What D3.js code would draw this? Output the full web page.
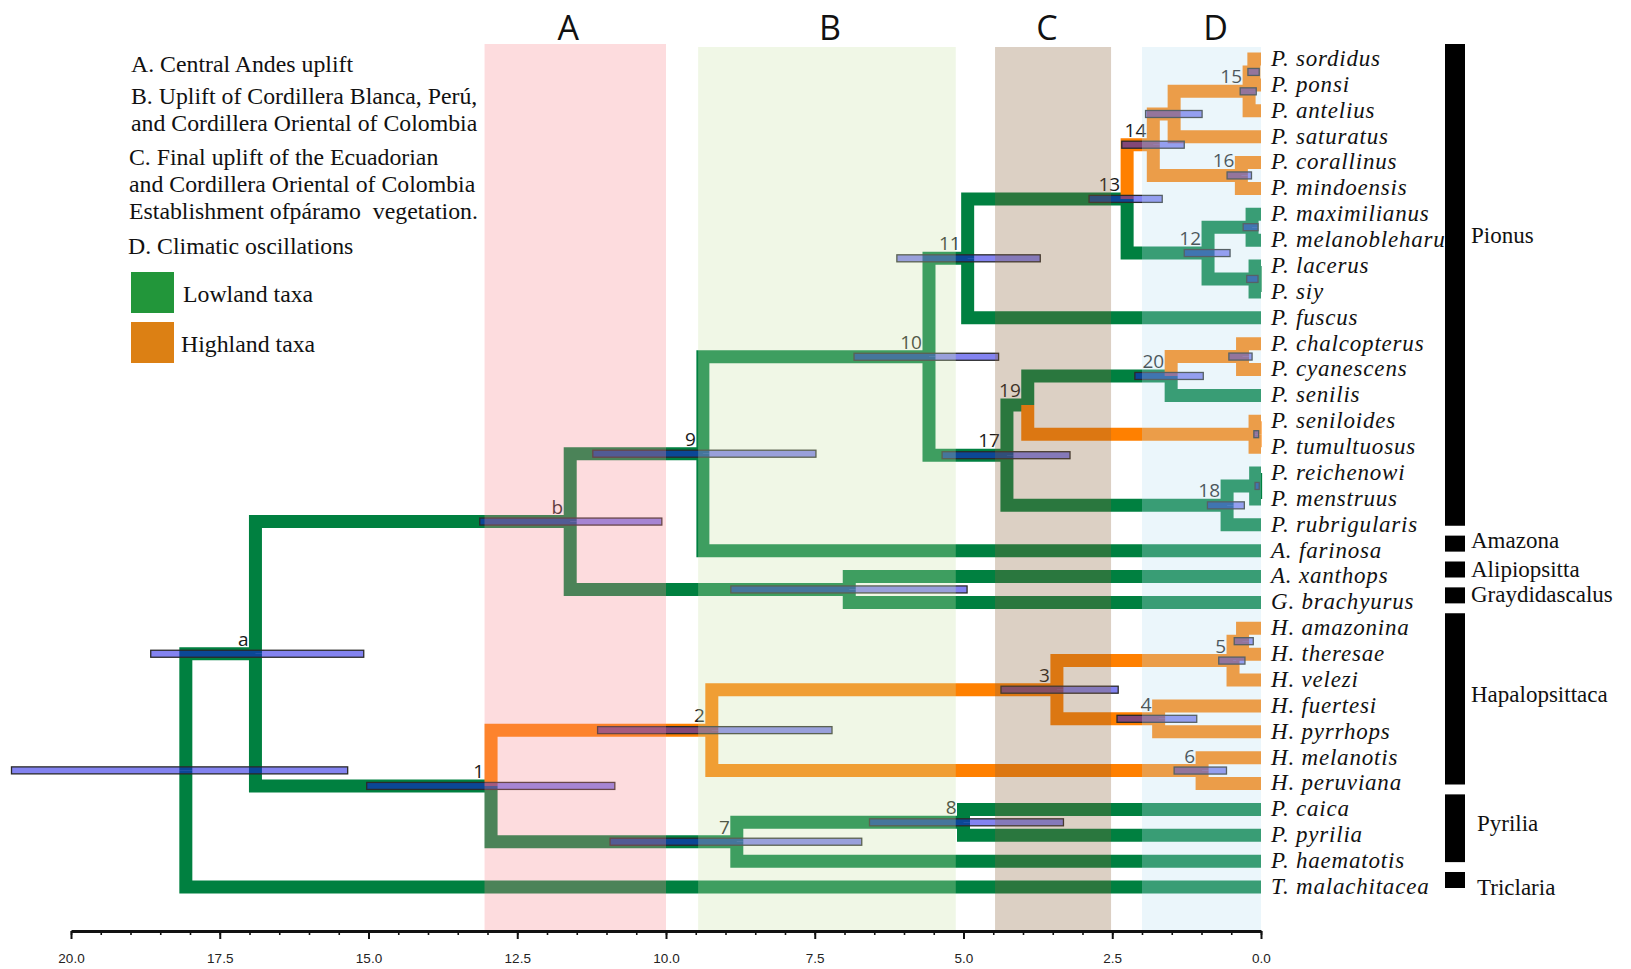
<!DOCTYPE html>
<html>
<head>
<meta charset="utf-8">
<script src="https://cdn.jsdelivr.net/npm/d3@7"></script>
<style>
  body { margin: 0; background: #fff; }
  text { font-family: "Liberation Serif", "Times New Roman", serif; }
</style>
</head>
<body>
<svg id="tree"></svg>
<script>
let outerWidth = 1631
let outerHeight = 969

// ---- data ----
let tipNames = ['P. sordidus', 'P. ponsi', 'P. antelius', 'P. saturatus', 'P. corallinus', 'P. mindoensis',
  'P. maximilianus', 'P. melanobleharus', 'P. lacerus', 'P. siy', 'P. fuscus', 'P. chalcopterus',
  'P. cyanescens', 'P. senilis', 'P. seniloides', 'P. tumultuosus', 'P. reichenowi', 'P. menstruus',
  'P. rubrigularis', 'A. farinosa', 'A. xanthops', 'G. brachyurus', 'H. amazonina', 'H. theresae',
  'H. velezi', 'H. fuertesi', 'H. pyrrhops', 'H. melanotis', 'H. peruviana', 'P. caica', 'P. pyrilia',
  'P. haematotis', 'T. malachitacea']
let tipParents = ['15a', '15a', '15', '14a', '16', '16', '12a', '12a', '12b', '12b', '11', '20a', '20a', '20',
  '19a', '19a', '18a', '18a', '18', '9', 'xb', 'xb', 'amth', 'amth', '5', '4', '4', '6', '6', '8', '8', '7', 'root']

// id, parent, age (Ma), 95% HPD old, 95% HPD young, label
let nodes = [
  ['root', null, 18.07, 21.0, 15.35, ''],
  ['a', 'root', 16.9, 18.66, 15.08, 'a'],
  ['1', 'a', 12.94, 15.03, 10.86, '1'],
  ['2', '1', 9.23, 11.15, 7.21, '2'],
  ['3', '2', 3.43, 4.37, 2.4, '3'],
  ['5', '3', 0.47, 0.71, 0.27, '5'],
  ['amth', '5', 0.31, 0.45, 0.13, ''],
  ['4', '3', 1.72, 2.42, 1.08, '4'],
  ['6', '2', 0.99, 1.46, 0.58, '6'],
  ['7', '1', 8.81, 10.94, 6.71, '7'],
  ['8', '7', 5.0, 6.58, 3.32, '8'],
  ['b', 'a', 11.61, 13.13, 10.07, 'b'],
  ['9', 'b', 9.38, 11.23, 7.48, '9'],
  ['xb', 'b', 6.92, 8.91, 4.94, ''],
  ['10', '9', 5.58, 6.84, 4.41, '10'],
  ['11', '10', 4.93, 6.12, 3.71, '11'],
  ['13', '11', 2.25, 2.89, 1.66, '13'],
  ['14', '13', 1.81, 2.34, 1.29, '14'],
  ['14a', '14', 1.46, 1.94, 0.99, ''],
  ['15', '14a', 0.2, 0.35, 0.08, '15'],
  ['15a', '15', 0.12, 0.22, 0.03, ''],
  ['16', '14', 0.33, 0.57, 0.16, '16'],
  ['12', '13', 0.89, 1.29, 0.52, '12'],
  ['12a', '12', 0.15, 0.3, 0.05, ''],
  ['12b', '12', 0.1, 0.24, 0.05, ''],
  ['17', '10', 4.27, 5.36, 3.21, '17'],
  ['19', '17', 3.92, null, null, '19'],
  ['20', '19', 1.51, 2.12, 0.97, '20'],
  ['20a', '20', 0.31, 0.54, 0.15, ''],
  ['19a', '19', 0.1, 0.12, 0.04, ''],
  ['18', '17', 0.57, 0.9, 0.28, '18'],
  ['18a', '18', 0.09, 0.1, 0.03, '']
]

// branches reconstructed as highland
let highland = ['2', '3', '5', 'amth', '4', '6', '14', '14a', '15', '15a', '16', '20a', '19a',
  'P. sordidus', 'P. ponsi', 'P. antelius', 'P. saturatus', 'P. corallinus', 'P. mindoensis',
  'P. chalcopterus', 'P. cyanescens', 'P. seniloides', 'P. tumultuosus',
  'H. amazonina', 'H. theresae', 'H. velezi', 'H. fuertesi', 'H. pyrrhops', 'H. melanotis', 'H. peruviana']

let bandNames = ['A', 'B', 'C', 'D']
let bandStart = [13.05, 9.46, 4.47, 2.0]
let bandEnd = [10.0, 5.13, 2.52, 0.0]

let majorTicks = [20, 17.5, 15, 12.5, 10, 7.5, 5, 2.5, 0]

let cladeNames = ['Pionus', 'Amazona', 'Alipiopsitta', 'Graydidascalus', 'Hapalopsittaca', 'Pyrilia', 'Triclaria']
let cladeFirst = ['P. sordidus', 'A. farinosa', 'A. xanthops', 'G. brachyurus', 'H. amazonina', 'P. caica', 'T. malachitacea']
let cladeLast = ['P. rubrigularis', 'A. farinosa', 'A. xanthops', 'G. brachyurus', 'H. peruviana', 'P. haematotis', 'T. malachitacea']
let cladeLabelTip = ['P. melanobleharus', 'A. farinosa', 'A. xanthops', 'G. brachyurus', 'H. fuertesi', 'P. pyrilia', 'T. malachitacea']

let legendLines = ['A. Central Andes uplift', 'B. Uplift of Cordillera Blanca, Perú,',
  'and Cordillera Oriental of Colombia', 'C. Final uplift of the Ecuadorian',
  'and Cordillera Oriental of Colombia', 'Establishment ofpáramo  vegetation.', 'D. Climatic oscillations']
let legendKeys = ['Lowland taxa', 'Highland taxa']

// ---- layout / style ----
let lowColor = '#008040'
let highColor = '#ff8000'
let bandColors = ['rgb(247,138,145)', 'rgb(205,228,172)', 'rgb(138,98,58)', 'rgb(188,225,242)']
let axisY = 931

let svg = d3.select('#tree')
  .attr('width', outerWidth)
  .attr('height', outerHeight)

svg.append('rect').attr('width', outerWidth).attr('height', outerHeight).attr('fill', '#fff')

let ageScale = d3.scaleLinear().domain([20, 0]).range([71, 1261])
let tipScale = d3.scalePoint().domain(tipNames).range([59, 887])

let rows = tipNames.map((t, i) => ({ id: t, parent: tipParents[i], age: 0 }))
  .concat(nodes.map(n => ({ id: n[0], parent: n[1], age: n[2], lo: n[3], hi: n[4], label: n[5] })))

let root = d3.stratify().id(d => d.id).parentId(d => d.parent)(rows)

root.eachAfter(d => {  // tips on the point scale, parents halfway between outer children
  if (!d.children) d.py = tipScale(d.id)
  else {
    let ys = d.children.map(c => c.py)
    d.py = (d3.min(ys) + d3.max(ys)) / 2
  }
  d.px = ageScale(d.data.age)
})

// branches
svg.append('g')
  .selectAll('path')
  .data(root.descendants().filter(d => d.parent))
  .join('path')
  .attr('d', d => `M${d.parent.px},${d.parent.py}V${d.py}H${d.px}`)
  .attr('fill', 'none')
  .attr('stroke', d => highland.includes(d.id) ? highColor : lowColor)
  .attr('stroke-width', 13)
  .attr('stroke-linejoin', 'miter')

// 95% HPD bars
svg.append('g')
  .selectAll('rect')
  .data(root.descendants().filter(d => d.data.lo != null))
  .join('rect')
  .attr('x', d => ageScale(d.data.lo))
  .attr('y', d => d.py - 3.5)
  .attr('width', d => ageScale(d.data.hi) - ageScale(d.data.lo))
  .attr('height', 7)
  .attr('fill', 'rgb(20,20,226)')
  .attr('fill-opacity', 0.53)
  .attr('stroke', '#2a2a2a')
  .attr('stroke-width', 1.3)

// node labels
svg.append('g')
  .selectAll('text')
  .data(root.descendants().filter(d => d.data.label))
  .join('text')
  .attr('x', d => d.px - 7)
  .attr('y', d => d.py - 8)
  .attr('text-anchor', 'end')
  .style('font-family', '"Open Sans", sans-serif')
  .style('font-size', '19px')
  .attr('fill', '#1a1a1a')
  .text(d => d.data.label)

// geological periods, laid over the tree
svg.append('g')
  .selectAll('rect')
  .data(bandNames)
  .join('rect')
  .attr('x', (d, i) => ageScale(bandStart[i]))
  .attr('y', (d, i) => i == 0 ? 44 : 47)
  .attr('width', (d, i) => ageScale(bandEnd[i]) - ageScale(bandStart[i]))
  .attr('height', (d, i) => axisY - (i == 0 ? 44 : 47))
  .attr('fill', (d, i) => bandColors[i])
  .attr('fill-opacity', 0.3)

let letterShift = [-7, 3, -6, 14]
svg.append('g')
  .selectAll('text')
  .data(bandNames)
  .join('text')
  .attr('x', (d, i) => (ageScale(bandStart[i]) + ageScale(bandEnd[i])) / 2 + letterShift[i])
  .attr('y', 40)
  .attr('text-anchor', 'middle')
  .style('font-family', '"Open Sans", sans-serif')
  .style('font-size', '34px')
  .attr('fill', '#111')
  .text(d => d)

// time axis
let minorAxis = d3.axisBottom(ageScale)
  .tickValues(d3.range(0, 20.01, 0.5))
  .tickSize(4)
  .tickSizeOuter(0)
  .tickFormat('')
let majorAxis = d3.axisBottom(ageScale)
  .tickValues(majorTicks)
  .tickSize(8)
  .tickSizeOuter(0)
  .tickPadding(14)
  .tickFormat(d3.format('.1f'))

let gMinor = svg.append('g').attr('transform', `translate(0,${axisY})`).call(minorAxis)
gMinor.selectAll('line').attr('stroke', '#111').attr('stroke-width', 1.6)
gMinor.select('.domain').attr('stroke', '#111').attr('stroke-width', 3)

let gMajor = svg.append('g').attr('transform', `translate(0,${axisY})`).call(majorAxis)
gMajor.select('.domain').remove()
gMajor.selectAll('line').attr('stroke', '#111').attr('stroke-width', 2)
gMajor.selectAll('text')
  .style('font-family', '"Liberation Sans", Arial, sans-serif')
  .style('font-size', '13.5px')
  .attr('fill', '#222')

// legend (top left)
let legendY = [72, 104, 131, 165, 192, 219, 254]
let legendX = [131, 131, 131, 129, 129, 129, 128]
svg.append('g')
  .selectAll('text')
  .data(legendLines)
  .join('text')
  .attr('x', (d, i) => legendX[i])
  .attr('y', (d, i) => legendY[i])
  .style('font-size', '23.8px')
  .style('white-space', 'pre')
  .attr('fill', '#111')
  .text(d => d)

let keyColors = ['#22963a', '#dc8014']
let keyY = [272, 322]
let keyG = svg.append('g')
keyG.selectAll('rect')
  .data(legendKeys)
  .join('rect')
  .attr('x', 131)
  .attr('y', (d, i) => keyY[i])
  .attr('width', 43)
  .attr('height', 41)
  .attr('fill', (d, i) => keyColors[i])
keyG.selectAll('text')
  .data(legendKeys)
  .join('text')
  .attr('x', (d, i) => i == 0 ? 183 : 181)
  .attr('y', (d, i) => keyY[i] + 30)
  .style('font-size', '23.8px')
  .attr('fill', '#111')
  .text(d => d)

// tip labels
svg.append('g')
  .selectAll('text')
  .data(tipNames)
  .join('text')
  .attr('x', 1271)
  .attr('y', d => tipScale(d))
  .attr('dy', '0.3em')
  .style('font-size', '23px')
  .style('font-style', 'italic')
  .style('letter-spacing', '0.8px')
  .attr('fill', '#111')
  .text(d => d)

// genus bars
let labelShift = [-5, -10, -7.5, -8, -11, -12, 0]
let cladeG = svg.append('g')
cladeG.selectAll('rect')
  .data(cladeNames)
  .join('rect')
  .attr('x', 1445)
  .attr('y', (d, i) => tipScale(cladeFirst[i]) - 15)
  .attr('width', 20)
  .attr('height', (d, i) => tipScale(cladeLast[i]) - tipScale(cladeFirst[i]) + 16)
  .attr('fill', '#000')
cladeG.selectAll('text')
  .data(cladeNames)
  .join('text')
  .attr('x', (d, i) => i >= 5 ? 1477 : 1471)
  .attr('y', (d, i) => tipScale(cladeLabelTip[i]) + labelShift[i])
  .attr('dy', '0.33em')
  .style('font-size', '23px')
  .attr('fill', '#111')
  .text(d => d)
</script>
</body>
</html>
